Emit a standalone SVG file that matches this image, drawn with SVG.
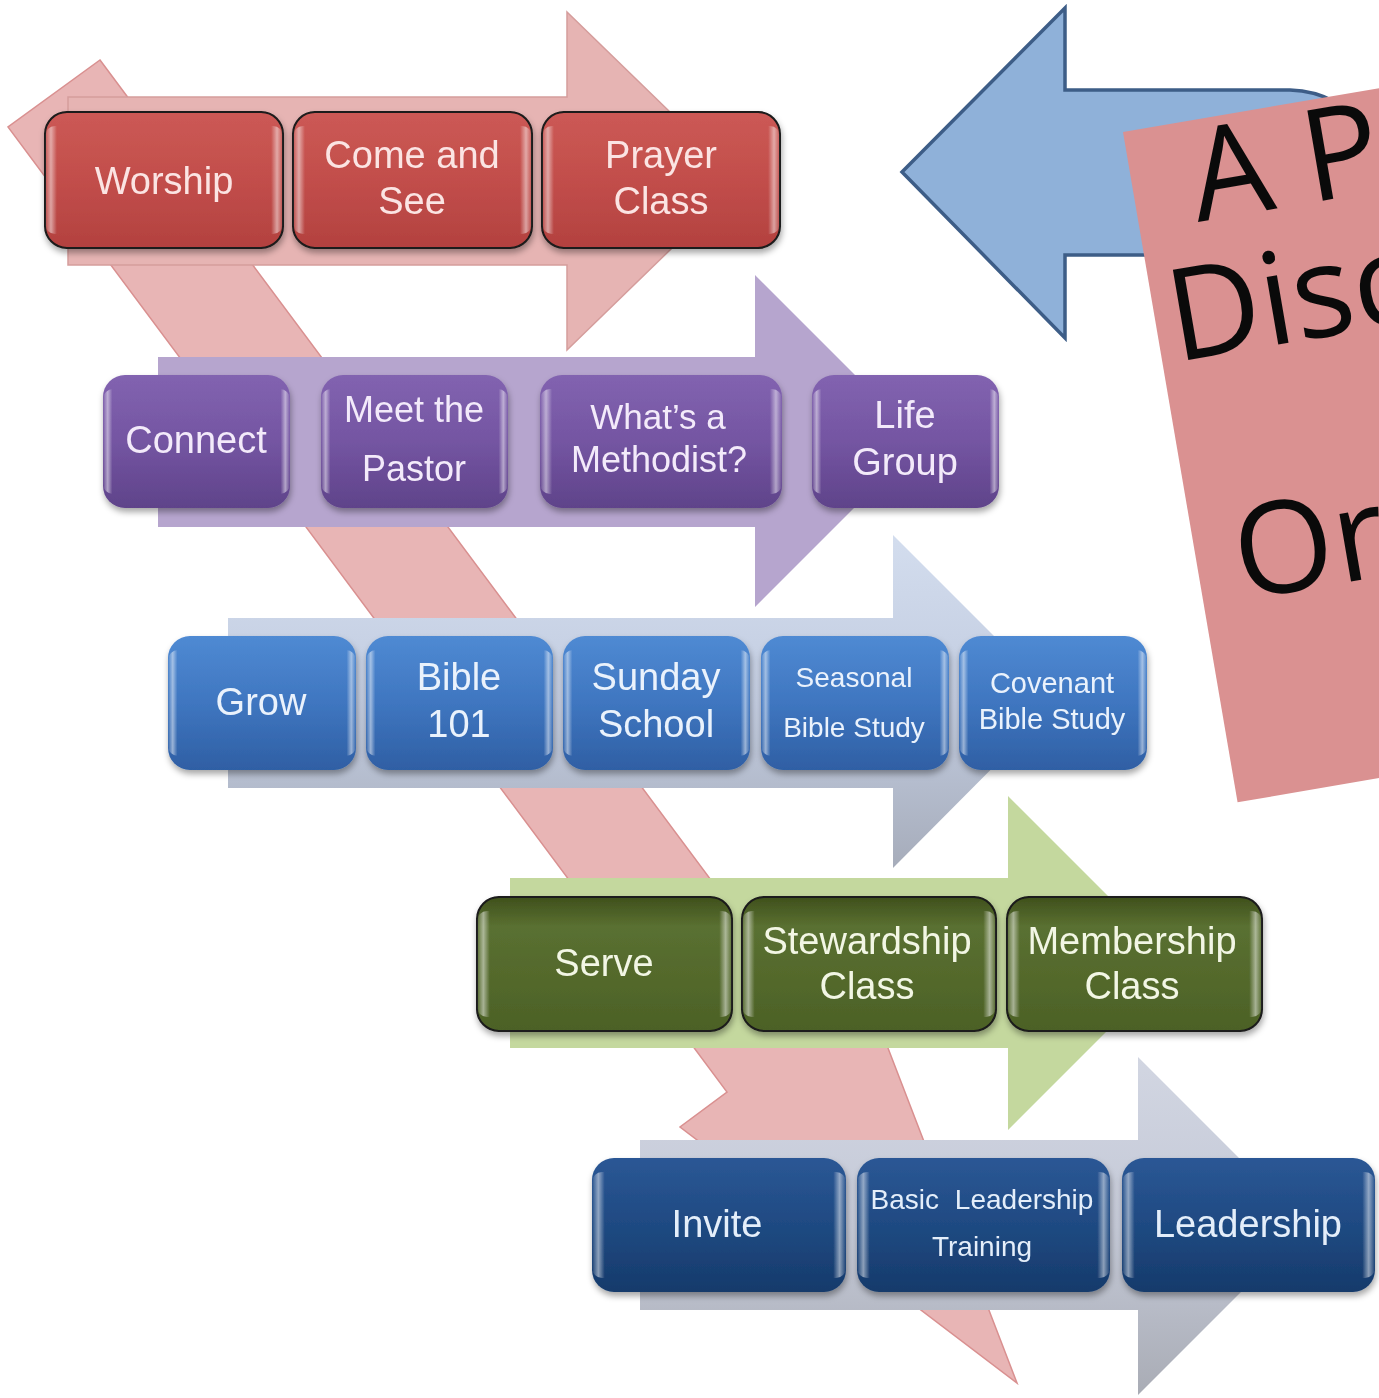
<svg xmlns="http://www.w3.org/2000/svg" width="1379" height="1398" viewBox="0 0 1379 1398">
<defs>
<filter id="sh" x="-10%" y="-10%" width="120%" height="130%">
<feDropShadow dx="1" dy="4" stdDeviation="3" flood-color="#000" flood-opacity="0.35"/>
</filter>
<linearGradient id="gRed" x1="0" y1="0" x2="0" y2="1"><stop offset="0" stop-color="#CC5955"/><stop offset="0.5" stop-color="#C24E4B"/><stop offset="1" stop-color="#B3413F"/></linearGradient>
<linearGradient id="gPur" x1="0" y1="0" x2="0" y2="1"><stop offset="0" stop-color="#8263B0"/><stop offset="0.5" stop-color="#7455A2"/><stop offset="1" stop-color="#5F438A"/></linearGradient>
<linearGradient id="gBlu" x1="0" y1="0" x2="0" y2="1"><stop offset="0" stop-color="#4F8AD3"/><stop offset="0.5" stop-color="#3F76C0"/><stop offset="1" stop-color="#2F5FA4"/></linearGradient>
<linearGradient id="gGrn" x1="0" y1="0" x2="0" y2="1"><stop offset="0" stop-color="#3F501C"/><stop offset="0.22" stop-color="#5A7031"/><stop offset="1" stop-color="#4C6126"/></linearGradient>
<linearGradient id="gNav" x1="0" y1="0" x2="0" y2="1"><stop offset="0" stop-color="#2B5795"/><stop offset="0.5" stop-color="#1F4A82"/><stop offset="1" stop-color="#163A6B"/></linearGradient>
<linearGradient id="gloss" x1="0" y1="0" x2="1" y2="0">
<stop offset="0" stop-color="#fff" stop-opacity="0"/><stop offset="0.025" stop-color="#fff" stop-opacity="0.5"/><stop offset="0.05" stop-color="#fff" stop-opacity="0"/>
<stop offset="0.95" stop-color="#fff" stop-opacity="0"/><stop offset="0.975" stop-color="#fff" stop-opacity="0.5"/><stop offset="1" stop-color="#fff" stop-opacity="0"/>
</linearGradient>
<linearGradient id="gArrBlu" x1="0" y1="0" x2="0" y2="1"><stop offset="0" stop-color="#D3DDEE"/><stop offset="0.5" stop-color="#C2CCE0"/><stop offset="1" stop-color="#A6ACBA"/></linearGradient>
<linearGradient id="gArrNav" x1="0" y1="0" x2="0" y2="1"><stop offset="0" stop-color="#D2D6E2"/><stop offset="0.5" stop-color="#C4C9D7"/><stop offset="1" stop-color="#A9ACB5"/></linearGradient>
<style>
.box{filter:url(#sh)}
.gl{fill:url(#gloss)}
.red .b{fill:url(#gRed);stroke:#1a1a1a;stroke-width:2}
.pur .b{fill:url(#gPur)}
.blu .b{fill:url(#gBlu)}
.grn .b{fill:url(#gGrn);stroke:#1a1a1a;stroke-width:2}
.nav .b{fill:url(#gNav)}
text{font-family:"Liberation Sans",Arial,sans-serif;text-anchor:middle}
.red text{fill:#FBE4E3}
.pur text{fill:#F3EAFA}
.blu text{fill:#EAF2FC}
.grn text{fill:#F2F6E4}
.nav text{fill:#E4EEFA}
.f38{font-size:38px}
.f36{font-size:36px}
.f35{font-size:35px}
.f29{font-size:29px}
.f28{font-size:28px}
.card text{font-family:"Open Sans","DejaVu Sans",sans-serif;font-size:128px;fill:#0a0a0a;text-anchor:start}
</style>
</defs>
<rect width="1379" height="1398" fill="#fff"/>

<g id="arrows">
<path id="diagonal-arrow" d="M100,60 L819,1025 L866,991 L1017,1383 L680,1127 L727,1092 L8,127 Z" fill="#E8B5B5" stroke="#D99090" stroke-width="1.5"/>
<path id="row1-arrow" d="M68,97 L567,97 L567,12 L741,181 L567,350 L567,265 L68,265 Z" fill="#E6B4B3" stroke="#D59D9C" stroke-width="1.5"/>
<path id="row2-arrow" d="M158,357 L755,357 L755,275 L921,441 L755,607 L755,527 L158,527 Z" fill="#B6A5CE"/>
<path id="row3-arrow" d="M228,618 L893,618 L893,535 L1059,701 L893,868 L893,788 L228,788 Z" fill="url(#gArrBlu)"/>
<path id="row4-arrow" d="M510,878 L1008,878 L1008,796 L1175,963 L1008,1130 L1008,1048 L510,1048 Z" fill="#C4D89E"/>
<path id="row5-arrow" d="M640,1140 L1138,1140 L1138,1057 L1307,1226 L1138,1395 L1138,1310 L640,1310 Z" fill="url(#gArrNav)"/>
</g>

<g id="row1">
<g id="n-worship" class="box red"><rect class="b" x="45" y="112" width="238" height="136" rx="22"/><rect class="gl" x="45" y="126" width="238" height="108" rx="10"/><text class="f38" x="164" y="194">Worship</text></g>
<g id="n-come-and-see" class="box red"><rect class="b" x="293" y="112" width="239" height="136" rx="22"/><rect class="gl" x="293" y="126" width="239" height="108" rx="10"/><text class="f38" x="412" y="168">Come and</text><text class="f38" x="412" y="214">See</text></g>
<g id="n-prayer-class" class="box red"><rect class="b" x="542" y="112" width="238" height="136" rx="22"/><rect class="gl" x="542" y="126" width="238" height="108" rx="10"/><text class="f38" x="661" y="168">Prayer</text><text class="f38" x="661" y="214">Class</text></g>
</g>

<g id="row2">
<g id="n-connect" class="box pur"><rect class="b" x="103" y="375" width="187" height="133" rx="22"/><rect class="gl" x="103" y="389" width="187" height="105" rx="10"/><text class="f38" x="196" y="453">Connect</text></g>
<g id="n-meet-the-pastor" class="box pur"><rect class="b" x="321" y="375" width="187" height="133" rx="22"/><rect class="gl" x="321" y="389" width="187" height="105" rx="10"/><text class="f36" x="414" y="422">Meet the</text><text class="f36" x="414" y="481">Pastor</text></g>
<g id="n-whats-a-methodist" class="box pur"><rect class="b" x="540" y="375" width="242" height="133" rx="22"/><rect class="gl" x="540" y="389" width="242" height="105" rx="10"/><text class="f35" x="658" y="429">What’s a</text><text class="f36" x="659" y="472">Methodist?</text></g>
<g id="n-life-group" class="box pur"><rect class="b" x="812" y="375" width="187" height="133" rx="22"/><rect class="gl" x="812" y="389" width="187" height="105" rx="10"/><text class="f38" x="905" y="428">Life</text><text class="f38" x="905" y="475">Group</text></g>
</g>

<g id="row3">
<g id="n-grow" class="box blu"><rect class="b" x="168" y="636" width="188" height="134" rx="22"/><rect class="gl" x="168" y="650" width="188" height="106" rx="10"/><text class="f38" x="261" y="715">Grow</text></g>
<g id="n-bible-101" class="box blu"><rect class="b" x="366" y="636" width="187" height="134" rx="22"/><rect class="gl" x="366" y="650" width="187" height="106" rx="10"/><text class="f38" x="459" y="690">Bible</text><text class="f38" x="459" y="737">101</text></g>
<g id="n-sunday-school" class="box blu"><rect class="b" x="563" y="636" width="187" height="134" rx="22"/><rect class="gl" x="563" y="650" width="187" height="106" rx="10"/><text class="f38" x="656" y="690">Sunday</text><text class="f38" x="656" y="737">School</text></g>
<g id="n-seasonal-bible-study" class="box blu"><rect class="b" x="761" y="636" width="188" height="134" rx="22"/><rect class="gl" x="761" y="650" width="188" height="106" rx="10"/><text class="f28" x="854" y="687">Seasonal</text><text class="f28" x="854" y="737">Bible Study</text></g>
<g id="n-covenant-bible-study" class="box blu"><rect class="b" x="959" y="636" width="188" height="134" rx="22"/><rect class="gl" x="959" y="650" width="188" height="106" rx="10"/><text class="f29" x="1052" y="693">Covenant</text><text class="f29" x="1052" y="729">Bible Study</text></g>
</g>

<g id="row4">
<g id="n-serve" class="box grn"><rect class="b" x="477" y="897" width="255" height="134" rx="22"/><rect class="gl" x="477" y="911" width="255" height="106" rx="10"/><text class="f38" x="604" y="976">Serve</text></g>
<g id="n-stewardship-class" class="box grn"><rect class="b" x="742" y="897" width="254" height="134" rx="22"/><rect class="gl" x="742" y="911" width="254" height="106" rx="10"/><text class="f38" x="867" y="954">Stewardship</text><text class="f38" x="867" y="999">Class</text></g>
<g id="n-membership-class" class="box grn"><rect class="b" x="1007" y="897" width="255" height="134" rx="22"/><rect class="gl" x="1007" y="911" width="255" height="106" rx="10"/><text class="f38" x="1132" y="954">Membership</text><text class="f38" x="1132" y="999">Class</text></g>
</g>

<g id="row5">
<g id="n-invite" class="box nav"><rect class="b" x="592" y="1158" width="254" height="134" rx="22"/><rect class="gl" x="592" y="1172" width="254" height="106" rx="10"/><text class="f38" x="717" y="1237">Invite</text></g>
<g id="n-basic-leadership-training" class="box nav"><rect class="b" x="857" y="1158" width="253" height="134" rx="22"/><rect class="gl" x="857" y="1172" width="253" height="106" rx="10"/><text class="f28" x="982" y="1209" word-spacing="8">Basic Leadership</text><text class="f28" x="982" y="1256">Training</text></g>
<g id="n-leadership" class="box nav"><rect class="b" x="1122" y="1158" width="253" height="134" rx="22"/><rect class="gl" x="1122" y="1172" width="253" height="106" rx="10"/><text class="f38" x="1248" y="1237">Leadership</text></g>
</g>

<g id="big-arrow">
<path d="M902,172 L1065,8 L1065,90 L1290,90 Q1340,92 1362,130 L1362,255 L1065,255 L1065,338 Z" fill="#8FB1D9" stroke="#3D5D87" stroke-width="3.5" stroke-linejoin="miter"/>
</g>

<g id="card" class="card">
<rect x="1123" y="132" width="420" height="680" fill="#DA9191" transform="rotate(-9.7 1123 132)"/>
<text x="1198" y="222" transform="rotate(-9.7 1198 222)">A P</text>
<text x="1176" y="362" transform="rotate(-9.7 1176 362)">Disc</text>
<text x="1242" y="600" transform="rotate(-9.7 1242 600)">Or</text>
</g>
</svg>
